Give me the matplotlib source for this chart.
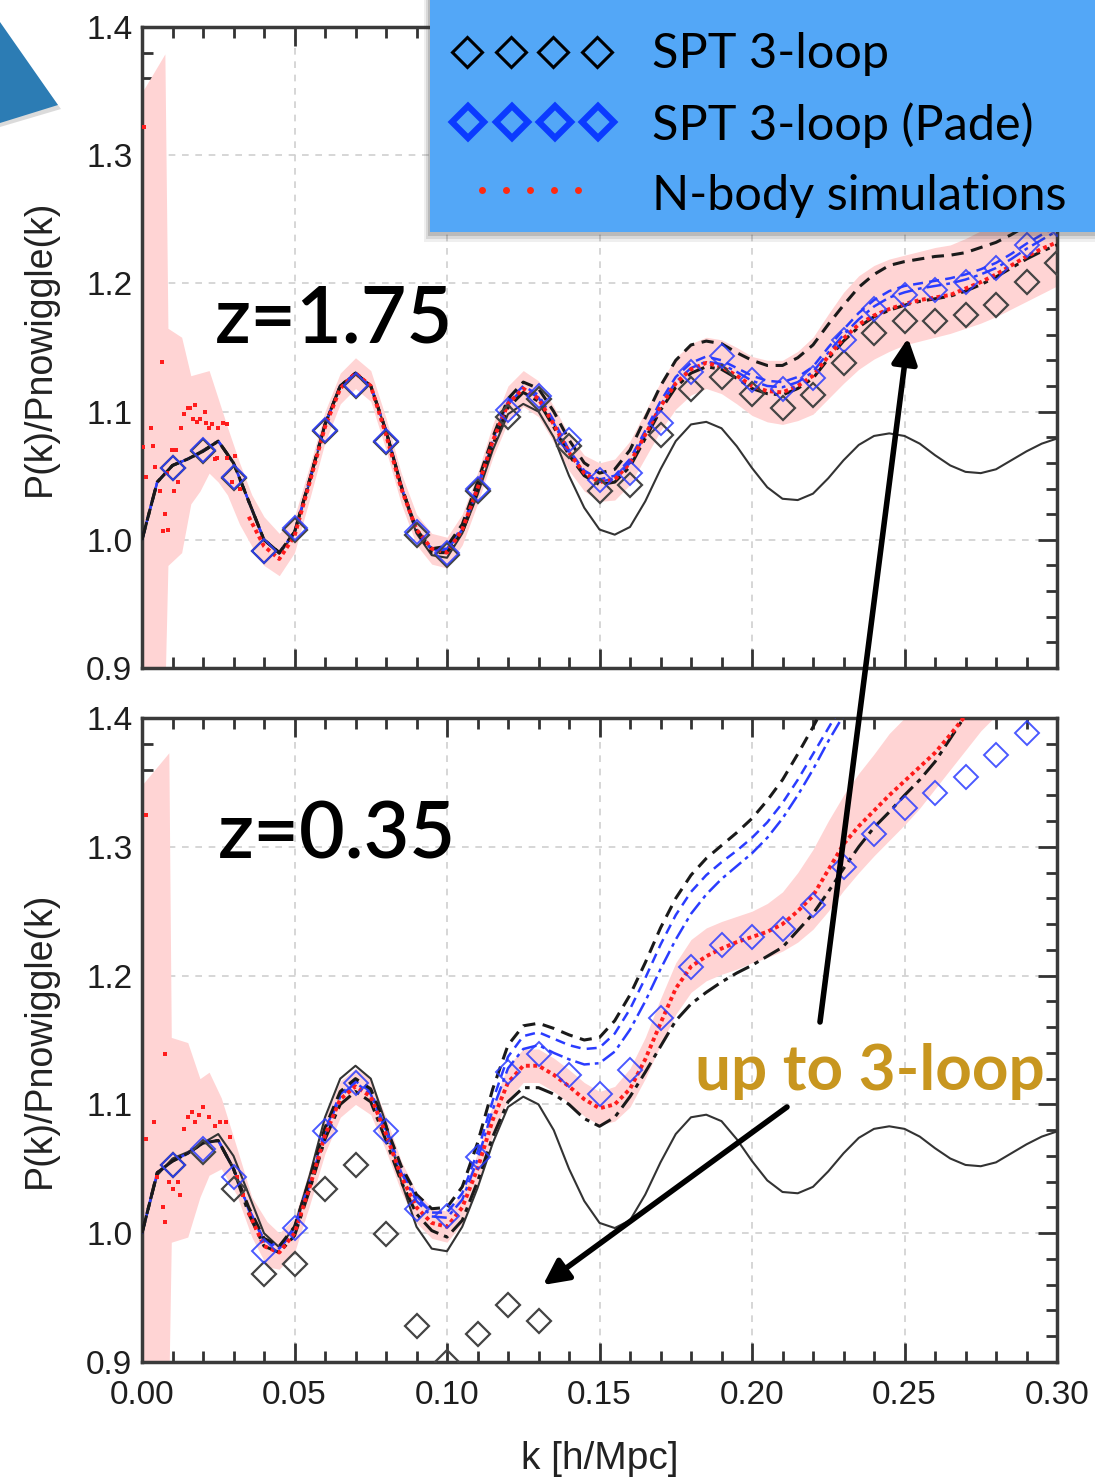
import numpy as np
import matplotlib
matplotlib.use("Agg")
import matplotlib.pyplot as plt
from matplotlib.patches import Polygon, Rectangle
from matplotlib.ticker import MultipleLocator, FormatStrFormatter

plt.rcParams["font.family"] = ["Liberation Sans", "DejaVu Sans"]

nan = np.nan

# k sampling (h/Mpc): curves every 0.005, SPT diamonds every 0.01
k_grid = np.round(np.arange(61) * 0.005, 3)
k_diam = np.round(np.arange(1, 31) * 0.01, 2)

# linear theory ratio (same for both redshifts)
lin_ratio = [1.000, 1.045, 1.058, 1.063, 1.070, 1.077, 1.060, 1.030, 1.000, 0.989,
             1.005, 1.045, 1.090, 1.120, 1.130, 1.120, 1.085, 1.040, 1.005, 0.988,
             0.986, 1.005, 1.035, 1.070, 1.098, 1.106, 1.100, 1.080, 1.050, 1.025,
             1.008, 1.004, 1.010, 1.030, 1.055, 1.077, 1.090, 1.092, 1.087, 1.073,
             1.056, 1.041, 1.032, 1.031, 1.036, 1.048, 1.062, 1.074, 1.081, 1.083,
             1.081, 1.075, 1.066, 1.058, 1.053, 1.052, 1.055, 1.062, 1.069, 1.075,
             1.079]

# ---------------- z = 1.75 ----------------
top_low = [1.000, 1.045, 1.058, 1.063, 1.069, 1.077, 1.060, 1.030, 1.000, 0.990,
           1.006, 1.047, 1.090, 1.120, 1.130, 1.120, 1.085, 1.042, 1.007]
top_dash_hi = top_low[:18] + [1.008, 0.993, 0.995,
    1.012, 1.045, 1.080, 1.110, 1.123, 1.118, 1.100, 1.078, 1.060, 1.052,
    1.055, 1.070, 1.095, 1.120, 1.140, 1.152, 1.155, 1.153, 1.146, 1.140,
    1.136, 1.136, 1.142, 1.152, 1.168, 1.183, 1.197, 1.207, 1.214, 1.217,
    1.219, 1.221, 1.222, 1.224, 1.228, 1.232, 1.238, 1.245, 1.252, 1.260]
top_blue_dash = top_low + [0.993, 0.993, 1.010, 1.042, 1.078, 1.108, 1.120, 1.113,
    1.093, 1.070, 1.054, 1.047, 1.050, 1.063, 1.085, 1.108, 1.127, 1.138, 1.143,
    1.140, 1.134, 1.128, 1.124, 1.123, 1.127, 1.135, 1.150, 1.164, 1.177, 1.187,
    1.194, 1.198, 1.200, 1.202, 1.204, 1.207, 1.211, 1.216, 1.223, 1.231, 1.238, 1.245]
top_blue_dd = top_low + [0.992, 0.992, 1.008, 1.040, 1.076, 1.106, 1.118, 1.111,
    1.091, 1.068, 1.052, 1.045, 1.048, 1.060, 1.082, 1.105, 1.123, 1.134, 1.139,
    1.137, 1.131, 1.124, 1.120, 1.119, 1.123, 1.131, 1.146, 1.160, 1.172, 1.182,
    1.189, 1.193, 1.196, 1.198, 1.200, 1.203, 1.207, 1.212, 1.219, 1.227, 1.234, 1.241]
top_dd_lo = top_low + [0.990, 0.990, 1.006, 1.038, 1.074, 1.103, 1.115, 1.108,
    1.088, 1.066, 1.050, 1.043, 1.045, 1.057, 1.079, 1.101, 1.119, 1.130, 1.135,
    1.133, 1.126, 1.118, 1.114, 1.113, 1.118, 1.126, 1.141, 1.155, 1.166, 1.174,
    1.179, 1.183, 1.186, 1.188, 1.190, 1.194, 1.199, 1.205, 1.212, 1.219, 1.225, 1.230]
top_nbody = [nan] * 7 + [1.018, 0.995, 0.985, 1.003, 1.045, 1.088, 1.118, 1.130,
    1.120, 1.082, 1.040, 1.008, 0.993, 0.990, 1.008, 1.040, 1.077, 1.106, 1.118,
    1.110, 1.090, 1.068, 1.052, 1.045, 1.047, 1.060, 1.082, 1.104, 1.122, 1.133,
    1.138, 1.135, 1.128, 1.120, 1.116, 1.115, 1.120, 1.128, 1.143, 1.157, 1.168,
    1.175, 1.180, 1.184, 1.187, 1.189, 1.191, 1.196, 1.201, 1.207, 1.214, 1.221,
    1.227, 1.232]
top_scatter_k = [0.0004, 0.0006, 0.0012, 0.0029, 0.0035, 0.0043, 0.0058, 0.0064,
                 0.0070, 0.0075, 0.0081, 0.0086, 0.0097, 0.0104, 0.0110, 0.0118,
                 0.0128, 0.0139, 0.0151, 0.0158, 0.0168, 0.0174, 0.0180, 0.0190,
                 0.0207, 0.0209, 0.0220, 0.0228, 0.0238, 0.0245, 0.0250, 0.0267,
                 0.0278, 0.0280, 0.0296, 0.0305, 0.0320]
top_scatter_v = [1.072, 1.322, 1.049, 1.087, 1.073, 1.057, 1.038, 1.139,
                 1.007, 1.020, 1.052, 1.008, 1.070, 1.038, 1.070, 1.045,
                 1.087, 1.098, 1.103, 1.103, 1.094, 1.105, 1.092, 1.094,
                 1.100, 1.091, 1.087, 1.090, 1.063, 1.064, 1.087, 1.091,
                 1.090, 1.064, 1.045, 1.065, 1.040]
top_band_k = [0, 0.0075, 0.0085, 0.013, 0.016, 0.019, 0.022, 0.025, 0.028,
              0.032, 0.036, 0.040, 0.045]
top_band_hi = [1.349, 1.379, 1.165, 1.158, 1.128, 1.130, 1.132, 1.110, 1.088,
               1.060, 1.035, 1.018, 1.005,
               1.018, 1.058, 1.100, 1.130, 1.142, 1.132, 1.095, 1.052, 1.020, 1.005,
               1.002, 1.020, 1.052, 1.090, 1.120, 1.132, 1.124, 1.104, 1.082, 1.066,
               1.060, 1.063, 1.077, 1.100, 1.123, 1.142, 1.153, 1.158, 1.156, 1.150,
               1.143, 1.140, 1.140, 1.147, 1.158, 1.176, 1.193, 1.206, 1.214, 1.219,
               1.222, 1.225, 1.228, 1.230, 1.235, 1.241, 1.248, 1.256, 1.262, 1.267,
               1.270]
top_band_lo = [0.88, 0.88, 0.980, 0.990, 1.028, 1.038, 1.052, 1.045, 1.035,
               1.012, 0.995, 0.980, 0.972,
               0.990, 1.032, 1.076, 1.106, 1.118, 1.108, 1.070, 1.028, 0.996, 0.981,
               0.978, 0.996, 1.028, 1.064, 1.092, 1.104, 1.096, 1.076, 1.054, 1.038,
               1.030, 1.031, 1.043, 1.064, 1.085, 1.102, 1.113, 1.118, 1.114, 1.106,
               1.097, 1.092, 1.090, 1.093, 1.098, 1.110, 1.122, 1.133, 1.141, 1.147,
               1.152, 1.155, 1.158, 1.161, 1.165, 1.169, 1.174, 1.180, 1.186, 1.192,
               1.198]
top_spt = [1.056, 1.069, 1.048, 0.991, 1.008, 1.085, 1.120, 1.076, 1.004, 0.988,
           1.038, 1.096, 1.110, 1.073, 1.038, 1.043, 1.082, 1.118, 1.127, 1.114,
           1.103, 1.113, 1.138, 1.161, 1.171, 1.171, 1.175, 1.183, 1.201, 1.216]
top_pade = [1.056, 1.070, 1.049, 0.991, 1.009, 1.086, 1.121, 1.077, 1.006, 0.990,
            1.040, 1.101, 1.112, 1.078, 1.047, 1.052, 1.091, 1.131, 1.143, 1.125,
            1.118, 1.126, 1.156, 1.180, 1.191, 1.195, 1.201, 1.212, 1.230, 1.246]

# ---------------- z = 0.35 ----------------
bot_low = [1.000, 1.047, 1.056, 1.062, 1.070, 1.072, 1.050]
bot_dash_hi = bot_low + [1.020, 0.996, 0.990, 1.005, 1.042, 1.082, 1.110, 1.120,
    1.112, 1.083, 1.052, 1.030, 1.019, 1.020, 1.036, 1.070, 1.112, 1.146, 1.161,
    1.163, 1.159, 1.154, 1.150, 1.152, 1.165, 1.185, 1.210, 1.237, 1.260, 1.278,
    1.291, 1.301, 1.311, 1.322, 1.336, 1.352, 1.372, 1.393, 1.415] + [nan] * 15
bot_blue_dash = bot_low + [1.019, 0.995, 0.989, 1.004, 1.040, 1.080, 1.108, 1.118,
    1.110, 1.081, 1.050, 1.027, 1.016, 1.016, 1.031, 1.063, 1.103, 1.137, 1.153,
    1.156, 1.151, 1.146, 1.143, 1.144, 1.155, 1.174, 1.198, 1.224, 1.247, 1.265,
    1.278, 1.288, 1.297, 1.307, 1.319, 1.334, 1.352, 1.372, 1.392, 1.412] + [nan] * 14
bot_blue_dd = bot_low + [1.018, 0.994, 0.988, 1.002, 1.038, 1.078, 1.106, 1.117,
    1.108, 1.079, 1.047, 1.025, 1.013, 1.012, 1.026, 1.057, 1.096, 1.128, 1.143,
    1.146, 1.140, 1.135, 1.131, 1.132, 1.141, 1.158, 1.180, 1.205, 1.228, 1.248,
    1.263, 1.275, 1.285, 1.295, 1.307, 1.322, 1.340, 1.360, 1.382, 1.402, 1.420] + [nan] * 13
bot_dd_lo = bot_low + [1.015, 0.990, 0.985, 0.998, 1.034, 1.073, 1.100, 1.110,
    1.102, 1.072, 1.040, 1.015, 1.002, 0.997, 1.010, 1.040, 1.075, 1.102, 1.113,
    1.113, 1.108, 1.100, 1.089, 1.083, 1.090, 1.106, 1.125, 1.145, 1.165, 1.178,
    1.187, 1.195, 1.202, 1.208, 1.215, 1.222, 1.235, 1.248, 1.265, 1.283, 1.300,
    1.315, 1.327, 1.340, 1.352, 1.366, 1.384, 1.402, 1.420] + [nan] * 5
bot_nbody = [nan] * 7 + [1.016, 0.990, 0.985, 1.000, 1.036, 1.076, 1.104, 1.114,
    1.106, 1.077, 1.044, 1.020, 1.008, 1.005, 1.020, 1.050, 1.088, 1.117, 1.130,
    1.130, 1.123, 1.114, 1.104, 1.097, 1.100, 1.112, 1.135, 1.163, 1.190, 1.207,
    1.215, 1.221, 1.226, 1.230, 1.234, 1.240, 1.250, 1.262, 1.282, 1.302, 1.316,
    1.328, 1.340, 1.351, 1.362, 1.373, 1.387, 1.402, 1.420] + [nan] * 5
bot_scatter_k = [0.0013, 0.0013, 0.0038, 0.0050, 0.0069, 0.0075, 0.0075, 0.0088,
                 0.0100, 0.0119, 0.0125, 0.0138, 0.0150, 0.0163, 0.0175, 0.0188,
                 0.0200, 0.0220, 0.0238, 0.0256, 0.0275, 0.0288, 0.0310, 0.0330]
bot_scatter_v = [1.325, 1.073, 1.086, 1.044, 1.020, 1.009, 1.139, 1.040,
                 1.034, 1.040, 1.030, 1.081, 1.090, 1.094, 1.086, 1.092,
                 1.098, 1.090, 1.083, 1.086, 1.086, 1.075, 1.044, 1.030]
bot_band_k = [0, 0.0088, 0.0096, 0.015, 0.019, 0.022, 0.026, 0.031, 0.036, 0.041, 0.045]
bot_band_hi = [1.348, 1.373, 1.152, 1.148, 1.120, 1.125, 1.105, 1.067, 1.028, 1.009, 1.000,
               1.012, 1.050, 1.090, 1.118, 1.128, 1.120, 1.090, 1.056, 1.032, 1.020,
               1.017, 1.032, 1.062, 1.100, 1.130, 1.143, 1.143, 1.136, 1.127, 1.117,
               1.110, 1.114, 1.128, 1.152, 1.182, 1.210, 1.228, 1.237, 1.242, 1.246,
               1.250, 1.256, 1.265, 1.280, 1.298, 1.320, 1.340, 1.357, 1.372, 1.388,
               1.400, 1.412, 1.420, 1.430, 1.440, 1.450, 1.460, 1.470, 1.480, 1.490,
               1.500]
bot_band_lo = [0.88, 0.88, 0.993, 0.997, 1.028, 1.045, 1.050, 1.030, 0.997, 0.974, 0.972,
               0.985, 1.022, 1.062, 1.090, 1.100, 1.092, 1.064, 1.032, 1.008, 0.996,
               0.993, 1.008, 1.038, 1.076, 1.104, 1.117, 1.117, 1.110, 1.101, 1.091,
               1.084, 1.087, 1.098, 1.120, 1.146, 1.170, 1.187, 1.196, 1.201, 1.205,
               1.210, 1.214, 1.219, 1.226, 1.236, 1.250, 1.266, 1.280, 1.293, 1.305,
               1.317, 1.330, 1.345, 1.360, 1.375, 1.390, 1.402, 1.415, 1.430, 1.440,
               1.450]
bot_spt = [1.053, 1.063, 1.034, 0.968, 0.976, 1.034, 1.053, 0.999, 0.928, 0.900,
           0.922, 0.944, 0.932] + [nan] * 17
bot_pade = [1.053, 1.065, 1.044, 0.986, 1.004, 1.079, 1.117, 1.079, 1.019, 1.013,
            1.059, 1.125, 1.139, 1.123, 1.108, 1.127, 1.167, 1.207, 1.224, 1.230,
            1.236, 1.255, 1.284, 1.310, 1.330, 1.342, 1.354, 1.371, 1.388, nan]

W, H = 1095, 1479
fig = plt.figure(figsize=(W / 100, H / 100), dpi=100)
ax_top = fig.add_axes([142 / W, 1 - 668 / H, 915 / W, 641 / H])
ax_bot = fig.add_axes([142 / W, 1 - 1362 / H, 915 / W, 644 / H])

band_col = "#ffd4d4"
red = "#ff1c1c"
blue = "#2a3cff"


def draw_panel(ax, band_k, band_hi, band_lo, hi, bd, bdd, lo, nbody, sk, sv, spt, pade):
    bk = np.concatenate([band_k, k_grid[10:]])
    ax.fill_between(bk, band_lo, band_hi, color=band_col, lw=0, zorder=1)
    ax.plot(k_grid, lin_ratio, color="#333333", lw=1.5, zorder=3)
    ax.plot(k_grid, bd, color=blue, lw=1.8, ls=(0, (4, 2.5)), zorder=3)
    ax.plot(k_grid, bdd, color=blue, lw=1.8, ls=(0, (6, 2, 1.5, 2)), zorder=3)
    ax.plot(k_grid, lo, color="#1a1a1a", lw=2.2, ls=(0, (6, 2, 1.5, 2)), zorder=4)
    ax.plot(k_grid, hi, color="#1a1a1a", lw=2.2, ls=(0, (4, 2.5)), zorder=4)
    ax.plot(k_grid, nbody, color=red, lw=2.8, ls=(0, (1, 0.9)), zorder=5)
    ax.plot(sk, sv, ls="none", marker="s", ms=3.4, color=red, mew=0, zorder=5)
    ax.plot(k_diam, spt, ls="none", marker="D", ms=12, mfc="none",
            mec="#444444", mew=1.6, zorder=6)
    ax.plot(k_diam, pade, ls="none", marker="D", ms=12, mfc="none",
            mec=blue, mew=1.4, alpha=0.85, zorder=6)

    ax.set_xlim(0, 0.30)
    ax.set_ylim(0.9, 1.4)
    ax.xaxis.set_major_locator(MultipleLocator(0.05))
    ax.xaxis.set_minor_locator(MultipleLocator(0.01))
    ax.yaxis.set_major_locator(MultipleLocator(0.1))
    ax.yaxis.set_minor_locator(MultipleLocator(0.02))
    ax.xaxis.set_major_formatter(FormatStrFormatter("%.2f"))
    ax.yaxis.set_major_formatter(FormatStrFormatter("%.1f"))
    ax.grid(True, which="major", color="#cfcfcf", lw=1.2, ls=(0, (4, 4)), zorder=0)
    ax.set_axisbelow(True)
    ax.tick_params(which="both", direction="in", top=True, right=True,
                   color="#333333", width=2, labelsize=24, labelcolor="#1e1e1e")
    ax.tick_params(which="major", length=14, pad=7)
    ax.tick_params(axis="x", which="major", pad=13)
    ax.tick_params(which="minor", length=8)
    for s in ax.spines.values():
        s.set_linewidth(2.5)
        s.set_color("#3a3a3a")
    ax.set_ylabel("P(k)/Pnowiggle(k)", fontsize=27, color="#222222")
    ax.yaxis.set_label_coords(-0.092, 0.5)


draw_panel(ax_top, top_band_k, top_band_hi, top_band_lo, top_dash_hi, top_blue_dash,
           top_blue_dd, top_dd_lo, top_nbody, top_scatter_k, top_scatter_v,
           top_spt, top_pade)
draw_panel(ax_bot, bot_band_k, bot_band_hi, bot_band_lo, bot_dash_hi, bot_blue_dash,
           bot_blue_dd, bot_dd_lo, bot_nbody, bot_scatter_k, bot_scatter_v,
           bot_spt, bot_pade)
ax_top.tick_params(labelbottom=False)
ax_bot.set_xlabel("k [h/Mpc]", fontsize=28, color="#222222", va="top")
ax_bot.xaxis.set_label_coords(0.5, -0.122)

big = dict(fontsize=57, family="Lato", fontweight="semibold", va="baseline", zorder=8)
ax_top.text(0.024, 1.154, "z=1.75", **big)
ax_bot.text(0.025, 1.291, "z=0.35", **big)
ax_bot.text(0.1813, 1.111, "up to 3-loop", fontsize=46, family="Lato",
            fontweight="bold", color="#c8961f", va="baseline", zorder=8)

# overlay in image pixel coordinates for legend box, pointer and arrows
ov = fig.add_axes([0, 0, 1, 1])
ov.set_xlim(0, W)
ov.set_ylim(H, 0)
ov.axis("off")
ov.set_zorder(10)

# speech-bubble pointer at top left
ov.add_patch(Polygon([(0, 26), (61, 109), (0, 127)], closed=True,
                     color="#999999", alpha=0.35, lw=0))
ov.add_patch(Polygon([(0, 22), (58, 105), (0, 123)], closed=True,
                     color="#2c7cb4", lw=0))

# legend box with shadow
for off, a in [(10, 0.08), (7, 0.12), (4, 0.18)]:
    ov.add_patch(Rectangle((430 - off * 0.6, 0), W, 232 + off,
                           color="#333333", alpha=a, lw=0))
ov.add_patch(Rectangle((430, 0), W - 430, 232, color="#53a7f7", lw=0))
ov.plot([467, 511, 553, 597], [52] * 4, ls="none", marker="D", ms=15,
        mfc="none", mec="black", mew=2.2)
ov.plot([468, 512, 555, 598], [122] * 4, ls="none", marker="D", ms=16,
        mfc="none", mec="#0b3bff", mew=4.5)
ov.plot([482, 506, 530, 554, 578], [190] * 5, ls="none", marker="o", ms=5,
        color="#ff2a10", mew=0)
leg_text = dict(fontsize=35, family="Lato", va="baseline", color="black")
ov.text(652, 68, "SPT 3-loop", **leg_text)
ov.text(652, 140, "SPT 3-loop (Pade)", **leg_text)
ov.text(652, 210, "N-body simulations", **leg_text)

arrow = dict(arrowstyle="-|>", lw=4, color="black", mutation_scale=38,
             shrinkA=0, shrinkB=0)
ov.annotate("", xy=(908, 338), xytext=(820, 1022), arrowprops=arrow)
ov.annotate("", xy=(543, 1285), xytext=(787, 1107), arrowprops=arrow)

fig.savefig("out.png", dpi=100)
